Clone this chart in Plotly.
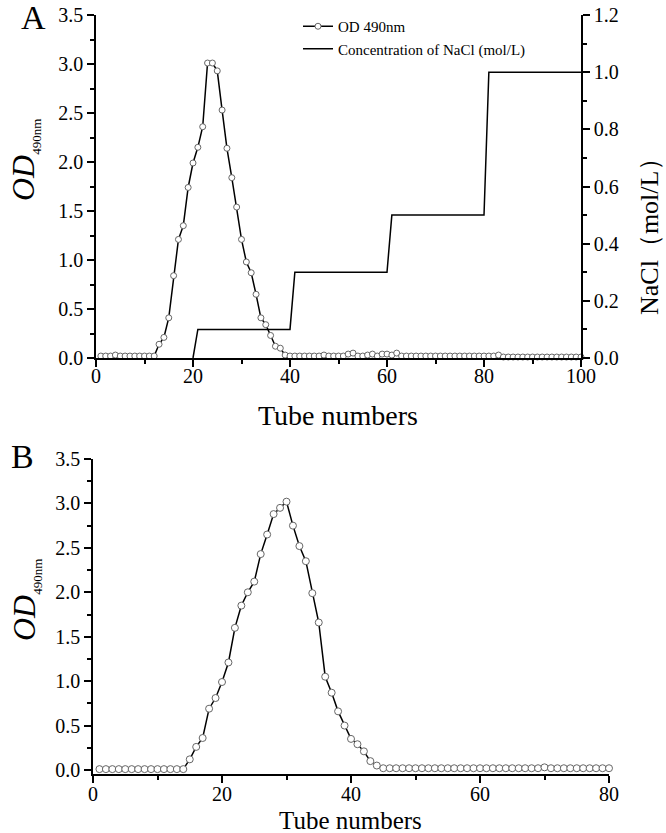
import plotly.graph_objects as go

# ---------------- data ----------------
tubes_a = list(range(1, 101))
od_a = [0.02, 0.02, 0.02, 0.03, 0.02, 0.02, 0.02, 0.02, 0.02, 0.02,
        0.02, 0.02, 0.14, 0.21, 0.41, 0.84, 1.21, 1.35, 1.74, 1.99,
        2.15, 2.36, 3.01, 3.01, 2.93, 2.53, 2.14, 1.84, 1.54, 1.21,
        0.98, 0.87, 0.65, 0.41, 0.34, 0.23, 0.12, 0.10, 0.03, 0.02,
        0.02, 0.02, 0.02, 0.02, 0.02, 0.02, 0.03, 0.02, 0.02, 0.02,
        0.02, 0.04, 0.05, 0.02, 0.02, 0.03, 0.04, 0.02, 0.04, 0.04,
        0.03, 0.05, 0.02, 0.02, 0.02, 0.02, 0.02, 0.02, 0.02, 0.02,
        0.02, 0.02, 0.02, 0.02, 0.02, 0.02, 0.02, 0.02, 0.02, 0.02,
        0.02, 0.02, 0.03, 0.01, 0.01, 0.01, 0.01, 0.01, 0.01, 0.01,
        0.01, 0.01, 0.01, 0.01, 0.01, 0.01, 0.01, 0.01, 0.01, 0.01]

nacl_x = [20, 21, 40, 41, 60, 61, 80, 81, 100]
nacl_y = [0.0, 0.1, 0.1, 0.3, 0.3, 0.5, 0.5, 1.0, 1.0]

tubes_b = list(range(1, 81))
od_b = [0.01, 0.01, 0.01, 0.01, 0.01, 0.01, 0.01, 0.01, 0.01, 0.01,
        0.01, 0.01, 0.01, 0.01, 0.12, 0.26, 0.36, 0.69, 0.81, 0.99,
        1.21, 1.60, 1.85, 2.00, 2.12, 2.43, 2.65, 2.88, 2.95, 3.02,
        2.75, 2.52, 2.35, 1.99, 1.66, 1.05, 0.87, 0.66, 0.50, 0.35,
        0.29, 0.21, 0.10, 0.05, 0.02, 0.02, 0.02, 0.02, 0.02, 0.02,
        0.02, 0.02, 0.02, 0.02, 0.02, 0.02, 0.02, 0.02, 0.02, 0.02,
        0.02, 0.02, 0.02, 0.02, 0.02, 0.02, 0.02, 0.02, 0.02, 0.03,
        0.02, 0.02, 0.02, 0.02, 0.02, 0.02, 0.02, 0.02, 0.02, 0.02]

# ---------------- figure ----------------
W, H = 666, 833
SERIF = "Liberation Serif, Times New Roman, serif"

def px_x(p):
    return p / W

def px_y(p):
    return 1 - p / H

fig = go.Figure()

fig.add_trace(go.Scatter(
    x=tubes_a, y=od_a, xaxis="x", yaxis="y", mode="lines+markers",
    name="OD 490nm", cliponaxis=False,
    line=dict(color="black", width=1.5),
    marker=dict(symbol="circle", size=6, color="white",
                line=dict(color="#666666", width=1)),
))
fig.add_trace(go.Scatter(
    x=nacl_x, y=nacl_y, xaxis="x", yaxis="y2", mode="lines",
    name="Concentration of NaCl (mol/L)",
    line=dict(color="black", width=1.5),
))
fig.add_trace(go.Scatter(
    x=tubes_b, y=od_b, xaxis="x2", yaxis="y3", mode="lines+markers",
    showlegend=False, cliponaxis=False,
    line=dict(color="black", width=1.5),
    marker=dict(symbol="circle", size=7, color="white",
                line=dict(color="#666666", width=1)),
))

tickfont = dict(family=SERIF, size=20, color="black")
common = dict(showline=True, linecolor="black", linewidth=1.5,
              ticks="outside", ticklen=7, tickwidth=1.5, tickcolor="black",
              showgrid=False, zeroline=False, tickfont=tickfont,
              automargin=False)

def minor(d):
    return dict(dtick=d, ticks="outside", ticklen=4, tickwidth=1.5,
                tickcolor="black", showgrid=False)

fig.update_layout(
    template="none",
    width=W, height=H,
    margin=dict(l=0, r=0, t=0, b=0, pad=0, autoexpand=False),
    paper_bgcolor="white", plot_bgcolor="white",
    xaxis=dict(domain=[px_x(96), px_x(581)], anchor="y", range=[0, 100],
               tick0=0, dtick=20, minor=minor(10), ticklabelstandoff=-8, **common),
    yaxis=dict(domain=[px_y(358), px_y(15)], anchor="x", range=[0, 3.5],
               tick0=0, dtick=0.5, tickformat=".1f", minor=minor(0.25), **common),
    yaxis2=dict(overlaying="y", side="right", anchor="x", range=[0, 1.2],
                tick0=0, dtick=0.2, tickformat=".1f", minor=minor(0.1), **common),
    xaxis2=dict(domain=[px_x(93), px_x(609)], anchor="y3", range=[0, 80],
                tick0=0, dtick=20, minor=minor(10), ticklabelstandoff=-6, **common),
    yaxis3=dict(domain=[px_y(774), px_y(459)], anchor="x2", range=[-0.045, 3.5],
                tick0=0, dtick=0.5, tickformat=".1f", minor=minor(0.25), **common),
    legend=dict(x=px_x(298), y=px_y(10), xanchor="left", yanchor="top",
                bgcolor="rgba(0,0,0,0)", borderwidth=0,
                font=dict(family=SERIF, size=15, color="black"),
                tracegroupgap=0),
    showlegend=True,
)

def ann(text, x, y, size, angle=0):
    fig.add_annotation(text=text, x=px_x(x), y=px_y(y), xref="paper", yref="paper",
                       showarrow=False, xanchor="center", yanchor="middle",
                       textangle=angle,
                       font=dict(family=SERIF, size=size, color="black"))

ann("A", 33, 17, 34)
ann("B", 22, 456, 34)
ann("Tube numbers", 338, 415, 28)
ann("Tube numbers", 351, 820, 25)
od_title = "<i>OD</i><sub><span style='font-size:13px'>490nm</span></sub>"
ann(od_title, 25, 160, 32, -90)
ann(od_title, 25, 600, 32, -90)
ann("NaCl（mol/L）", 649, 230, 26, -90)

# remove the browser's default 8px page margin so the figure fills the window
fig.write_html("out.html",
               config={"displayModeBar": False},
               post_script="document.body.style.margin='0';document.body.style.overflow='hidden';")
